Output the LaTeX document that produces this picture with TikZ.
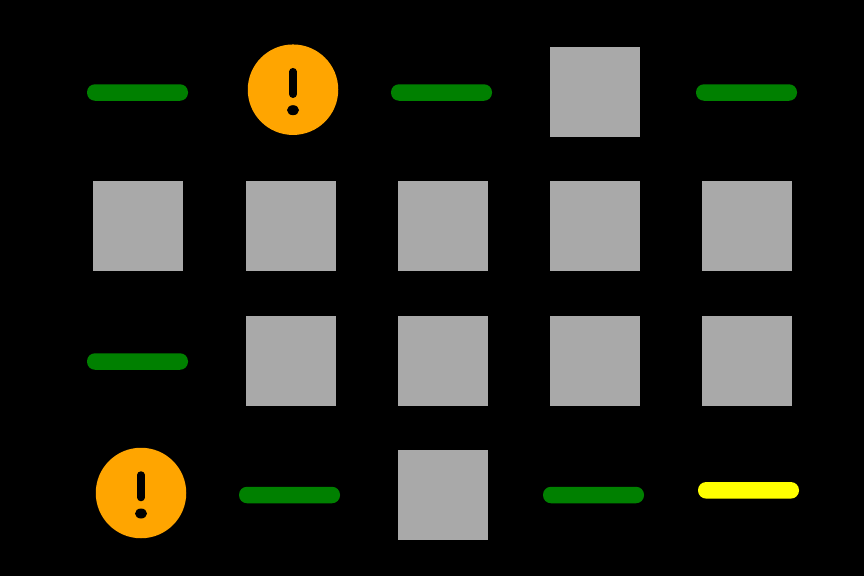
\documentclass[tikz,border=0pt]{standalone}
\tikzset{>=latex}
\usetikzlibrary{calc}
\definecolor{barok}{HTML}{008000}
\definecolor{barwarn}{HTML}{FFFF00}
\definecolor{tile}{HTML}{A9A9A9}
\definecolor{alert}{HTML}{FFA500}
\tikzset{
    tilebox/.style={fill=tile, draw=none, minimum size=90pt, inner sep=0pt, outer sep=0pt},
    okbar/.style={fill=barok, draw=none, rounded corners=8pt, minimum width=101pt, minimum height=16.5pt, inner sep=0pt},
    warnbar/.style={okbar, fill=barwarn},
    alertdot/.style={circle, fill=alert, draw=none, minimum size=90.5pt, inner sep=0pt},
}
\newcommand{\alertmark}[1]{
    \draw[line width=7.5pt, line cap=round] ($(#1)+(0,18pt)$) -- ($(#1)+(0,-4.5pt)$);
    \fill ($(#1)+(0,-20.5pt)$) circle [x radius=6pt, y radius=5pt];
}
\begin{document}
\begin{tikzpicture}[x=1pt, y=-1pt]
            \fill[black] (0, 0) rectangle (864, 576);
            \useasboundingbox (0, 0) rectangle (864, 576);
            % row 1
            \node[okbar] (bar11) at (137.5, 92.5) {};
            \node[alertdot] (dot12) at (293, 89.7) {};
            \alertmark{dot12}
            \node[okbar] (bar13) at (441.5, 92.5) {};
            \node[tilebox] (tile14) at (595, 92) {};
            \node[okbar] (bar15) at (746.5, 92.5) {};
            % rows 2 and 3
            \foreach \x/\n in {138/1, 291/2, 443/3, 595/4, 747/5} {
                \node[tilebox] (tile2\n) at (\x, 226) {};
            }
            \node[okbar] (bar31) at (137.5, 361.5) {};
            \foreach \x/\n in {291/2, 443/3, 595/4, 747/5} {
                \node[tilebox] (tile3\n) at (\x, 361) {};
            }
            % row 4
            \node[alertdot] (dot41) at (141, 493) {};
            \alertmark{dot41}
            \node[okbar] (bar42) at (289.5, 495) {};
            \node[tilebox] (tile43) at (443, 495) {};
            \node[okbar] (bar44) at (593.5, 495) {};
            \node[warnbar] (bar45) at (748.5, 490.3) {};
        \end{tikzpicture}
\end{document}
